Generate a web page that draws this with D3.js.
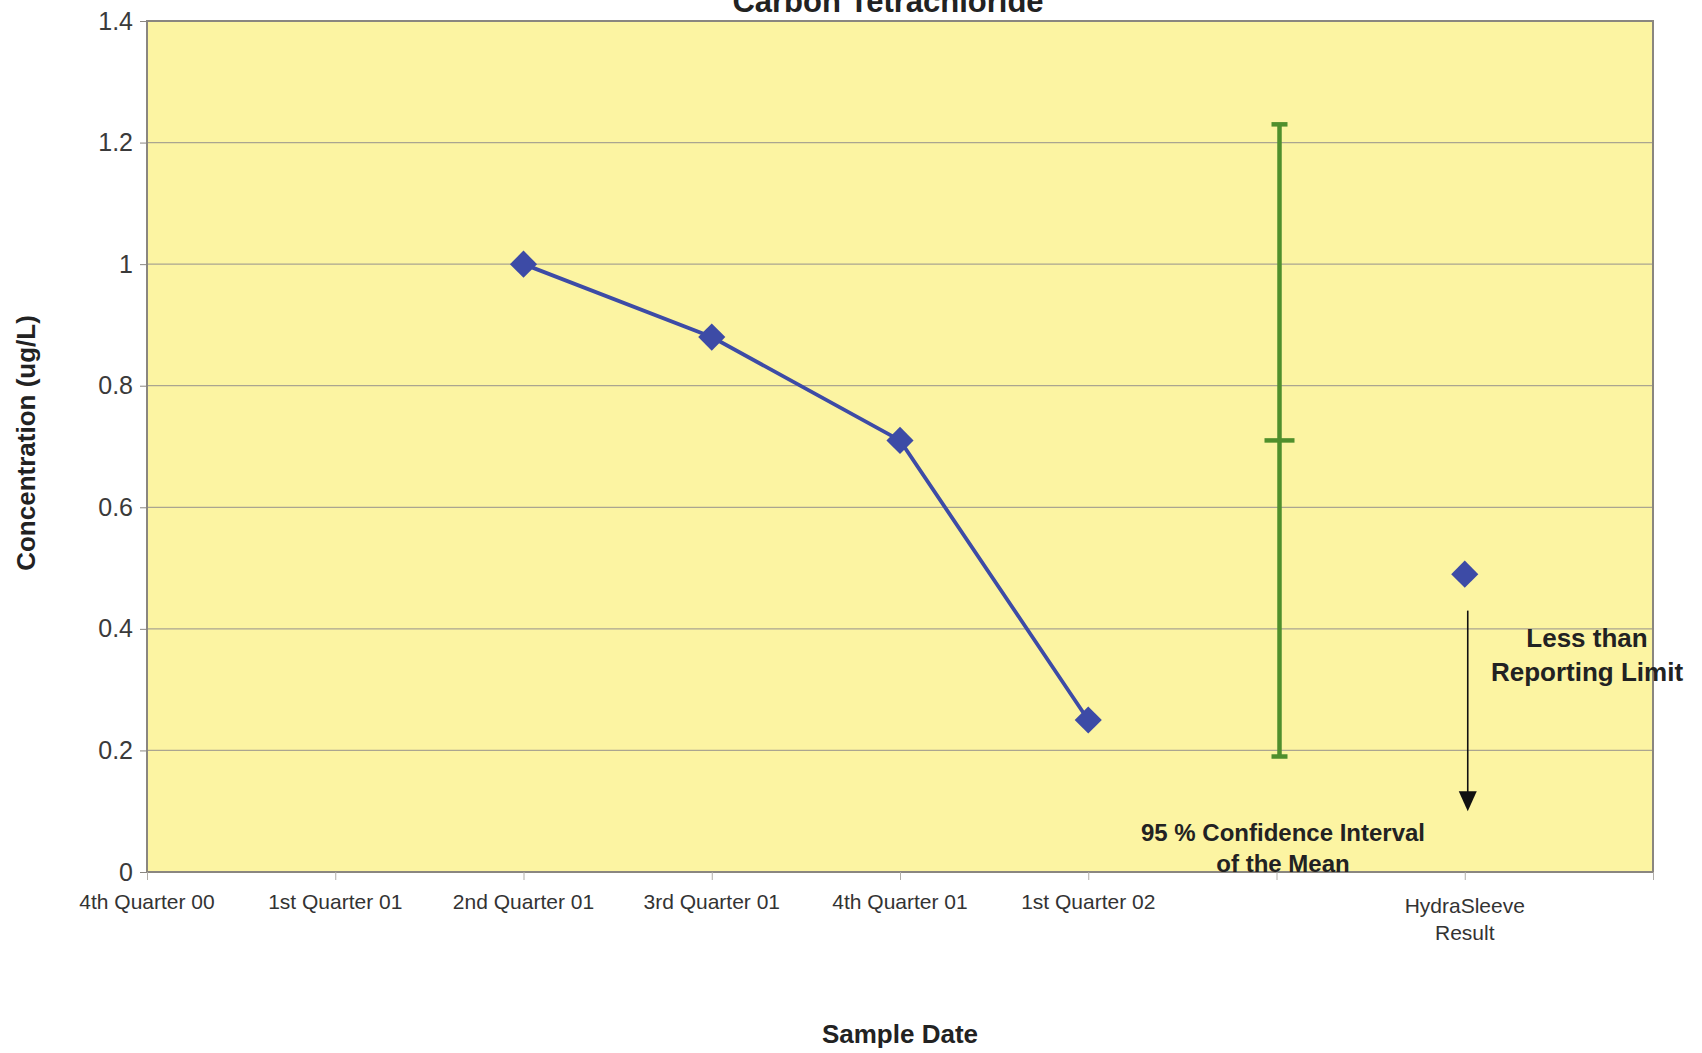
<!DOCTYPE html>
<html><head><meta charset="utf-8">
<script src="https://cdn.jsdelivr.net/npm/d3@7"></script>
<style>
html,body{margin:0;padding:0;background:#fff;}
svg{display:block;}
text{font-family:"Liberation Sans",Arial,sans-serif;}
</style></head>
<body>
<svg id="chart" width="1702" height="1053"></svg>
<script>
const categories = ["4th Quarter 00","1st Quarter 01","2nd Quarter 01","3rd Quarter 01","4th Quarter 01","1st Quarter 02","","HydraSleeve|Result"];
const seriesValues = [null,null,1.0,0.88,0.71,0.25,null,null];
const hydraIndex = 7, hydraValue = 0.49;
const ciIndex = 6, ciLow = 0.19, ciMean = 0.71, ciHigh = 1.23;
const arrowFrom = 0.43, arrowTo = 0.10;
const yTicks = [0,0.2,0.4,0.6,0.8,1.0,1.2,1.4];
const yTickLabels = ["0","0.2","0.4","0.6","0.8","1","1.2","1.4"];

const svg = d3.select("#chart");
const L = 147, R = 1653, T = 21, B = 872;
const x = d3.scaleLinear().domain([0, 8]).range([L, R]);
const y = d3.scaleLinear().domain([0, 1.4]).range([B, T]);

// plot background
svg.append("rect").attr("x", L).attr("y", T).attr("width", R - L).attr("height", B - T)
  .attr("fill", "#fcf4a2");

// gridlines
svg.append("g").selectAll("line").data(yTicks.slice(1, -1)).join("line")
  .attr("x1", L).attr("x2", R).attr("y1", d => y(d)).attr("y2", d => y(d))
  .attr("stroke", "#aaa590").attr("stroke-width", 1.2);

// border
svg.append("rect").attr("x", L).attr("y", T).attr("width", R - L).attr("height", B - T)
  .attr("fill", "none").attr("stroke", "#8a8680").attr("stroke-width", 2);

// y axis
const yAxis = d3.axisLeft(y).tickValues(yTicks).tickFormat((d, i) => yTickLabels[i]).tickSize(7).tickPadding(7);
const gy = svg.append("g").attr("transform", `translate(${L},0)`).call(yAxis);
gy.select(".domain").remove();
gy.selectAll(".tick line").attr("stroke", "#8a8680");
gy.selectAll(".tick text").attr("font-size", 25).attr("fill", "#3a3a3a");

// x axis
const xAxis = d3.axisBottom(x).tickValues(d3.range(0, 9)).tickFormat("").tickSize(8);
const gx = svg.append("g").attr("transform", `translate(0,${B})`).call(xAxis);
gx.select(".domain").remove();
gx.selectAll(".tick line").attr("stroke", "#b0ada8");

const xl = svg.append("g").selectAll("text").data(categories).join("text")
  .attr("text-anchor", "middle").attr("font-size", 21).attr("fill", "#333")
  .attr("x", (d, i) => x(i)).attr("y", (d, i) => i === hydraIndex ? 913 : 909);
xl.each(function(d) {
  const parts = d.split("|");
  const t = d3.select(this);
  parts.forEach((p, k) => t.append("tspan").attr("x", t.attr("x")).attr("dy", k === 0 ? 0 : 27).text(p));
});

// series line
const pts = seriesValues.map((v, i) => ({i, v})).filter(d => d.v !== null);
const blue = "#3d4ba6";
svg.append("path").datum(pts)
  .attr("d", d3.line().x(d => x(d.i)).y(d => y(d.v)))
  .attr("fill", "none").attr("stroke", blue).attr("stroke-width", 3.8);
const diamond = d3.symbol().type(d3.symbolDiamond2).size(470);
svg.append("g").selectAll("path").data(pts.concat([{i: hydraIndex, v: hydraValue}])).join("path")
  .attr("d", diamond).attr("transform", d => `translate(${x(d.i)},${y(d.v)})`)
  .attr("fill", blue);

// confidence interval
const green = "#4f8f2c";
const cx = x(ciIndex) + 3;
svg.append("line").attr("x1", cx).attr("x2", cx).attr("y1", y(ciHigh)).attr("y2", y(ciLow))
  .attr("stroke", green).attr("stroke-width", 4.5);
[[ciHigh, 16], [ciLow, 16], [ciMean, 30]].forEach(([v, w]) => {
  svg.append("line").attr("x1", cx - w / 2).attr("x2", cx + w / 2).attr("y1", y(v)).attr("y2", y(v))
    .attr("stroke", green).attr("stroke-width", 4.5);
});

// arrow
const ax = x(hydraIndex) + 3;
svg.append("line").attr("x1", ax).attr("x2", ax).attr("y1", y(arrowFrom)).attr("y2", y(arrowTo) - 16)
  .attr("stroke", "#111").attr("stroke-width", 1.6);
svg.append("path").attr("d", `M${ax - 9},${y(arrowTo) - 20} L${ax + 9},${y(arrowTo) - 20} L${ax},${y(arrowTo)} Z`)
  .attr("fill", "#111");

// annotations
svg.append("text").attr("x", 1587).attr("y", 647).attr("text-anchor", "middle")
  .attr("font-size", 26).attr("font-weight", "bold").attr("fill", "#222").text("Less than");
svg.append("text").attr("x", 1587).attr("y", 681).attr("text-anchor", "middle")
  .attr("font-size", 26).attr("font-weight", "bold").attr("fill", "#222").text("Reporting Limit");
svg.append("text").attr("x", 1283).attr("y", 841).attr("text-anchor", "middle")
  .attr("font-size", 24).attr("font-weight", "bold").attr("fill", "#222").text("95 % Confidence Interval");
svg.append("text").attr("x", 1283).attr("y", 872).attr("text-anchor", "middle")
  .attr("font-size", 24).attr("font-weight", "bold").attr("fill", "#222").text("of the Mean");

// titles
svg.append("text").attr("x", 888).attr("y", 12).attr("text-anchor", "middle")
  .attr("font-size", 31).attr("font-weight", "bold").attr("fill", "#222").text("Carbon Tetrachloride");
svg.append("text").attr("x", 900).attr("y", 1043).attr("text-anchor", "middle")
  .attr("font-size", 26).attr("font-weight", "bold").attr("fill", "#222").text("Sample Date");
svg.append("text").attr("transform", "translate(35,443) rotate(-90)").attr("text-anchor", "middle")
  .attr("font-size", 26).attr("font-weight", "bold").attr("fill", "#222").text("Concentration (ug/L)");
</script>
</body></html>
